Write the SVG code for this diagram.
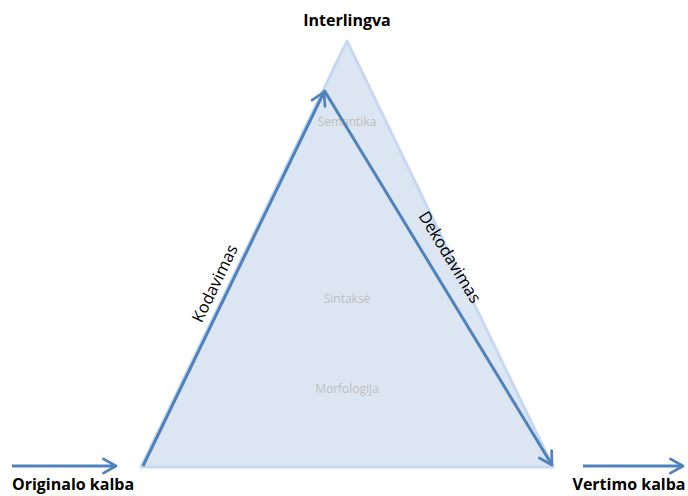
<svg xmlns="http://www.w3.org/2000/svg" width="688" height="496" viewBox="0 0 688 496">
<defs>
<marker id="ah" viewBox="0 0 10 10" refX="8" refY="5" markerWidth="6" markerHeight="6" orient="auto" markerUnits="strokeWidth">
<path d="M1,1 L8,5 L1,9" fill="none" stroke="#4f81bd" stroke-width="1.5" stroke-linecap="round" stroke-linejoin="round"/>
</marker>
<style>
.lbl{font-family:"Open Sans","Liberation Sans",sans-serif;font-weight:bold;font-size:16px;fill:#000}
.side{font-family:"Open Sans","Liberation Sans",sans-serif;font-size:16.5px;fill:#000}
.lvl{font-family:"Open Sans","Liberation Sans",sans-serif;font-size:12px;fill:#bfbfbf}
.arr{fill:none;stroke:#4f81bd;stroke-width:3;marker-end:url(#ah)}
</style>
</defs>
<rect width="688" height="496" fill="#fff"/>
<g id="triangle">
<polygon points="347,41 141,467 553,467" fill="#dce6f2" stroke="#c6d9f1" stroke-width="3" stroke-linejoin="round"/>
<text class="lvl" x="347" y="126" text-anchor="middle">Semantika</text>
<text class="lvl" x="347" y="303" text-anchor="middle">Sintaksė</text>
<text class="lvl" x="347" y="393" text-anchor="middle">Morfologija</text>
</g>
<g id="interlingva"><text class="lbl" x="347" y="26" text-anchor="middle">Interlingva</text></g>
<g id="originalo"><text class="lbl" x="73" y="490" text-anchor="middle">Originalo kalba</text></g>
<g id="vertimo"><text class="lbl" x="629" y="490" text-anchor="middle">Vertimo kalba</text></g>
<g id="connectors">
<line class="arr" x1="143" y1="466" x2="324" y2="92"/>
<line class="arr" x1="324" y1="90" x2="552" y2="465"/>
<line class="arr" x1="12" y1="466" x2="116" y2="466"/>
<line class="arr" x1="583" y1="466" x2="683" y2="466"/>
<text class="side" transform="translate(220,286) rotate(-64.2)" text-anchor="middle">Kodavimas</text>
<text class="side" transform="translate(445,260) rotate(58.7)" text-anchor="middle">Dekodavimas</text>
</g>
</svg>
